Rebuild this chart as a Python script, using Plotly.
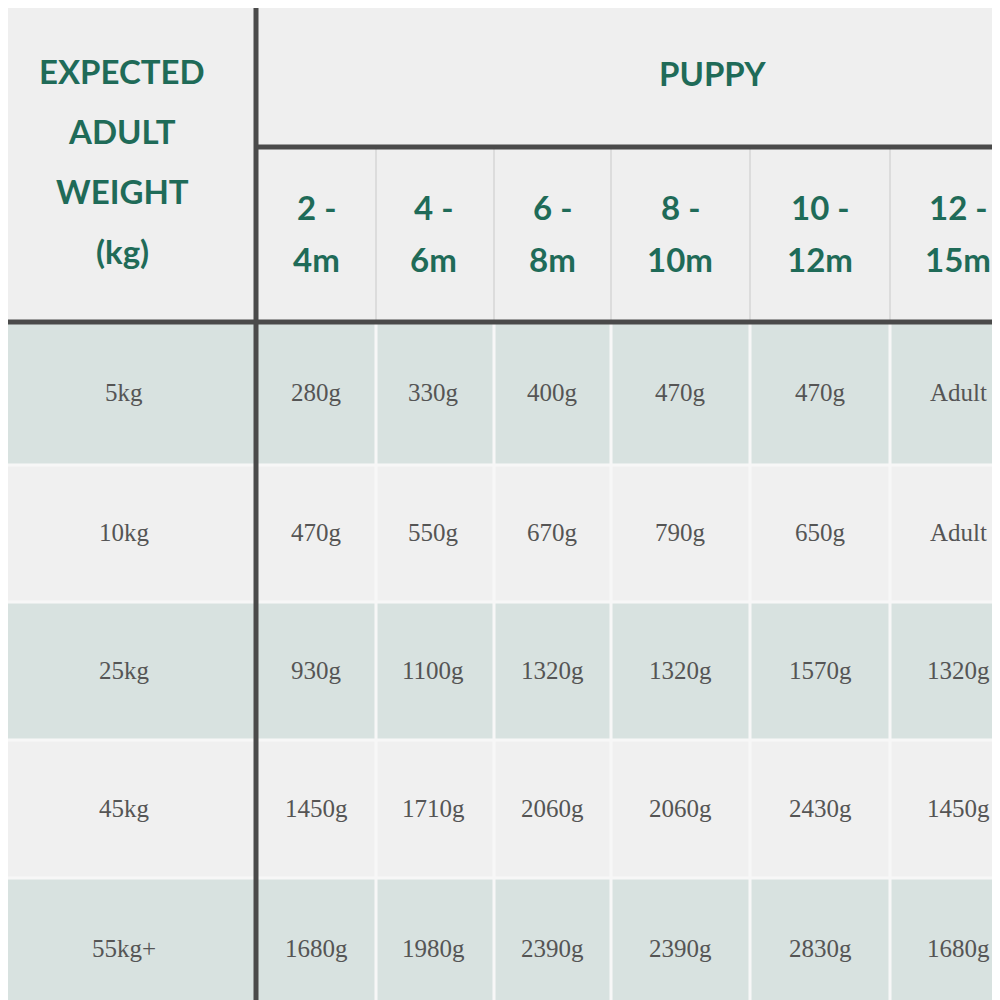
import plotly.graph_objects as go

weights = ["5kg", "10kg", "25kg", "45kg", "55kg+"]
age_from = ["2 -", "4 -", "6 -", "8 -", "10 -", "12 -"]
age_to = ["4m", "6m", "8m", "10m", "12m", "15m"]
weight_title = ["EXPECTED", "ADULT", "WEIGHT", "(kg)"]
portions = [
    ["280g", "330g", "400g", "470g", "470g", "Adult"],
    ["470g", "550g", "670g", "790g", "650g", "Adult"],
    ["930g", "1100g", "1320g", "1320g", "1570g", "1320g"],
    ["1450g", "1710g", "2060g", "2060g", "2430g", "1450g"],
    ["1680g", "1980g", "2390g", "2390g", "2830g", "1680g"],
]

col_edges = [0, 256, 376, 494, 611, 750, 890, 1030]
col_centres = [316, 433, 552, 680, 820, 958]
row_edges = [322, 465, 602, 740, 878, 1020]
header_top, header_mid = 8, 147

green = "#1f6b58"
dark = "#4a4a4a"
row_colors = ["#d8e2e0", "#f0f0f0"]
body_font = dict(family="Liberation Serif", size=25, color="#555555")
head_font = dict(family="Lato", size=33, color=green)

fig = go.Figure()
shapes = []
ann = []

# header background
shapes.append(dict(type="rect", x0=0, x1=1030, y0=header_top, y1=row_edges[0],
                   fillcolor="#efefef", line_width=0, layer="below"))
for x in col_edges[2:-1]:
    shapes.append(dict(type="line", x0=x, x1=x, y0=header_mid, y1=row_edges[0],
                       line=dict(color="#dcdcdc", width=2)))

# body rows
for i, w in enumerate(weights):
    y0, y1 = row_edges[i], row_edges[i + 1]
    shapes.append(dict(type="rect", x0=0, x1=1030, y0=y0, y1=y1,
                       fillcolor=row_colors[i % 2], line_width=0, layer="below"))
    shapes.append(dict(type="line", x0=0, x1=1030, y0=y1, y1=y1,
                       line=dict(color="#f7f7f7", width=3)))
    ym = (y0 + y1) / 2 - 1
    ann.append(dict(x=124, y=ym, text=w, showarrow=False, font=body_font))
    for j, v in enumerate(portions[i]):
        ann.append(dict(x=col_centres[j], y=ym, text=v, showarrow=False, font=body_font))

for x in col_edges[2:-1]:
    shapes.append(dict(type="line", x0=x, x1=x, y0=row_edges[0], y1=1010,
                       line=dict(color="#f7f7f7", width=3)))

# header texts
for k, t in enumerate(weight_title):
    ann.append(dict(x=122, y=71 + k * 60, text="<b>" + t + "</b>", showarrow=False, font=head_font))
ann.append(dict(x=712, y=73, text="<b>PUPPY</b>", showarrow=False, font=head_font))
for j in range(len(age_from)):
    ann.append(dict(x=col_centres[j], y=207, text="<b>" + age_from[j] + "</b>", showarrow=False,
                    font=head_font, xanchor="center"))
    ann.append(dict(x=col_centres[j], y=259, text="<b>" + age_to[j] + "</b>", showarrow=False,
                    font=head_font, xanchor="center"))

# thick rules
shapes.append(dict(type="line", x0=256, x1=256, y0=header_top, y1=1010, line=dict(color=dark, width=5)))
shapes.append(dict(type="line", x0=256, x1=1010, y0=header_mid, y1=header_mid, line=dict(color=dark, width=5)))
shapes.append(dict(type="line", x0=0, x1=1010, y0=row_edges[0], y1=row_edges[0], line=dict(color=dark, width=5)))

fig.add_trace(go.Scatter(x=[0, 1000], y=[0, 1000], mode="markers", marker=dict(opacity=0), hoverinfo="skip"))
# page body has an 8px margin, so shift the view to compensate
fig.update_layout(
    width=1000, height=1000, margin=dict(l=0, r=0, t=0, b=0),
    paper_bgcolor="white", plot_bgcolor="white", showlegend=False,
    shapes=shapes, annotations=ann,
    xaxis=dict(range=[8, 1008], visible=False, fixedrange=True),
    yaxis=dict(range=[1008, 8], visible=False, fixedrange=True),
)
fig.write_html("out.html")
